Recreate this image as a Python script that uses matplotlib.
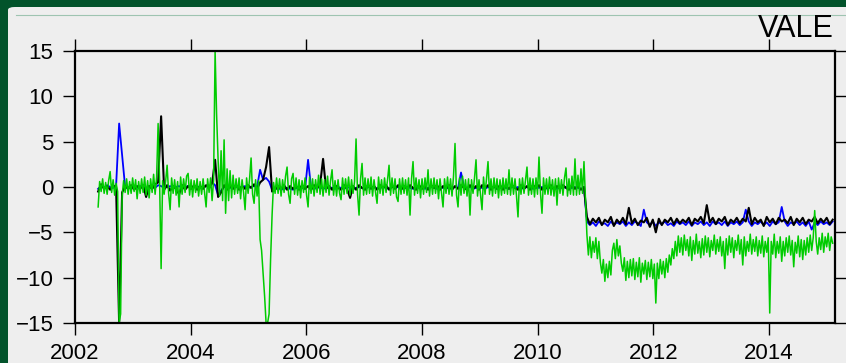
import numpy as np
import matplotlib
matplotlib.use('Agg')
from matplotlib import pyplot as plt
from matplotlib.patches import FancyBboxPatch
from matplotlib.lines import Line2D

# decimal-year sampling before and after the level shift
dates_pre = np.linspace(2002.40, 2010.80, 163)
dates_post = np.linspace(2010.85, 2015.10, 83)
# green series is sampled twice as often
dates_green_pre = np.linspace(2002.40, 2010.80, 325)
dates_green_post = np.linspace(2010.85, 2015.10, 165)

green_pre = [
    -2.2, 0.6, -0.5, 0.9, -0.7, 0.5, -0.8, 0.7, 1.7, -0.6,
    0.8, -0.9, 0.4, -0.5, -15.0, -14.0, -1.0, 0.7, -0.6, 0.9,
    -0.8, 0.6, -0.7, 1.0, -0.5, 0.8, -1.3, 0.6, -0.7, 0.9,
    -0.6, 1.1, -0.9, 0.7, -1.2, 0.9, -0.6, 1.4, -0.8, 1.1,
    7.0, 0.5, -9.0, 0.7, -0.8, 0.6, 2.4, -0.7, -2.5, 1.0,
    -0.7, 0.8, -0.9, 0.6, -2.2, 1.1, -0.8, 0.9, -0.6, 1.2,
    1.5, -0.9, 0.8, -1.1, 0.7, -0.6, 0.9, -1.0, 0.6, -0.8,
    0.9, -0.7, -2.2, 0.9, -0.6, 1.0, -1.5, 0.8, 15.0, 8.0,
    3.0, -1.0, 4.0, -1.5, 5.2, -2.9, 2.0, -1.5, 1.8, -1.2,
    1.3, -0.8, 0.9, -0.7, 1.0, -1.3, 0.8, -0.6, -2.5, 1.0,
    -0.7, 0.9, 3.2, -0.8, -1.8, 0.8, -1.0, 0.7, -5.8, -7.0,
    -9.5, -12.0, -15.0, -15.0, -14.0, -8.0, -3.1, 0.5, -0.7, 1.0,
    -0.7, 0.9, -1.0, 0.8, -0.6, 1.2, 2.2, -0.8, -1.8, 0.9,
    1.5, -0.8, 1.0, -0.9, 0.8, -1.2, 0.7, -0.6, 1.0, -0.9,
    -2.2, 1.1, -0.7, 0.9, -1.0, 0.8, -0.6, 1.3, -0.8, 0.9,
    -1.0, 0.8, -0.6, 1.2, -0.9, 0.7, 1.9, -0.9, 0.7, -1.0,
    0.8, -0.7, -1.4, 1.0, -0.8, 0.9, -0.7, 1.1, -0.9, 0.8,
    -0.7, 0.6, 5.3, -0.8, -3.1, 0.9, 2.6, -0.9, 1.0, -0.8,
    0.9, -0.7, 1.1, -1.0, 0.8, -0.6, -1.8, 1.1, -0.7, 0.8,
    -0.9, 1.0, -0.6, 0.8, 2.4, -0.9, 1.0, -0.7, 0.9, -1.1,
    -1.6, 0.9, -0.8, 1.0, -0.7, 0.8, -0.9, 1.0, -3.1, 0.9,
    2.8, -0.9, 1.0, -0.7, 0.8, -1.2, 0.9, -0.8, 1.0, -0.6,
    1.9, -1.0, 0.9, -0.8, 1.0, -0.7, 0.8, -1.3, 0.9, -0.7,
    -2.2, 0.9, -0.7, 1.1, -0.8, 0.9, -1.0, 1.2, 4.8, -0.9,
    -2.2, 1.0, -0.9, 1.2, -0.7, 0.8, -1.0, 0.9, -3.1, 0.8,
    -0.7, 1.0, 3.0, -1.0, 0.8, -0.9, -2.5, 1.1, -0.8, 0.9,
    2.8, -0.8, 0.9, -1.0, 1.0, -0.7, 0.9, -1.2, 0.8, -0.9,
    1.0, -0.7, 0.9, -0.8, 1.9, -0.9, 1.0, -0.8, 0.9, -1.0,
    -3.3, 0.9, -0.8, 1.0, -0.7, 0.8, 2.2, -0.9, 1.0, -0.8,
    0.9, -1.1, 1.0, -0.8, 3.3, -0.7, -2.9, 1.0, -0.8, 0.9,
    -0.8, 1.1, -0.9, 0.8, -1.0, 0.9, -2.0, 1.0, -0.7, 0.8,
    -0.9, 1.0, 2.1, -1.0, 0.9, -0.8, 1.2, -0.9, 3.1, -0.9,
    1.3, -0.8, 2.0, -0.7, 2.8,
]
green_post = [
    -5.2, -7.5, -5.5, -7.8, -6.0, -7.2, -5.6, -7.9, -6.0, -8.3,
    -9.5, -8.0, -10.4, -8.5, -10.0, -8.2, -9.7, -7.0, -6.2, -7.9,
    -5.8, -7.6, -6.5, -8.4, -9.3, -7.8, -10.3, -8.2, -10.0, -8.0,
    -9.8, -7.9, -10.2, -8.3, -9.9, -7.8, -10.5, -8.4, -9.6, -8.1,
    -10.2, -8.3, -9.9, -8.0, -10.1, -8.5, -12.8, -8.4, -10.1, -8.0,
    -9.6, -8.2, -10.0, -7.9, -9.4, -7.5, -8.6, -6.8, -7.9, -6.0,
    -7.6, -5.4, -7.2, -5.6, -7.5, -5.3, -7.0, -5.8, -7.6, -5.5,
    -8.1, -5.9, -7.4, -5.2, -7.3, -6.0, -7.8, -5.7, -7.5, -5.4,
    -7.2, -5.6, -7.7, -5.9, -7.0, -5.3, -7.4, -5.8, -7.1, -5.5,
    -7.6, -6.0, -9.0, -5.7, -7.5, -5.4, -7.2, -5.6, -7.8, -5.9,
    -7.0, -5.3, -7.4, -5.8, -8.6, -5.5, -7.6, -6.0, -7.1, -5.2,
    -7.4, -5.8, -7.1, -5.5, -7.6, -5.9, -7.3, -5.4, -7.7, -6.0,
    -7.2, -5.6, -13.9, -6.0, -7.4, -5.2, -7.8, -6.0, -7.3, -5.5,
    -8.2, -6.0, -7.6, -5.6, -7.2, -5.4, -7.5, -5.9, -8.8, -6.1,
    -7.3, -5.4, -7.7, -5.8, -8.0, -5.9, -7.5, -5.6, -7.2, -5.3,
    -7.0, -5.6, -2.6, -6.0, -7.4, -5.6, -6.9, -5.1, -7.2, -5.5,
    -6.6, -5.1, -7.0, -5.5, -6.2,
]

black_pre = [
    -0.5, 0.3, -0.2, 0.1, -0.3, 0.2, -0.1, -15.0, -0.6, 0.1,
    -0.2, 0.2, -0.3, 0.1, -0.2, 0.2, -1.1, 0.1, -0.2, 0.3,
    0.5, 7.8, -0.3, 0.2, -0.4, 0.1, -0.2, -0.8, 0.2, -0.3,
    0.1, -0.2, 0.2, -0.3, 0.1, -0.2, 0.2, -0.1, 0.4, 3.0,
    -1.1, -0.6, 0.2, -0.3, 0.1, -0.2, 0.2, -0.3, 0.1, -0.2,
    0.2, -0.1, 0.3, -0.2, 0.5, 0.8, 2.2, 4.4, -0.5, -0.3,
    0.1, -0.2, 0.2, -0.3, 0.1, -0.2, 0.1, -0.3, 0.2, -0.2,
    0.1, -0.3, 0.2, -0.1, 0.2, 3.1, -0.2, 0.1, -0.3, 0.2,
    -0.1, -0.3, 0.2, -0.2, -1.2, 0.1, -0.3, 0.2, -0.1, -0.3,
    0.2, -0.2, 0.1, -0.3, 0.2, -0.1, 0.2, -0.3, 0.1, -0.2,
    0.2, -0.3, 0.1, -0.2, 0.2, -0.1, -0.3, 0.2, -0.2, 0.1,
    -0.3, 0.2, -0.1, 0.2, -0.3, 0.1, -0.2, 0.2, -0.3, 0.1,
    -0.2, 0.2, -0.1, -0.3, 0.2, -0.2, 0.1, -0.3, 0.2, -0.1,
    0.2, -0.3, 0.1, -0.2, 0.2, -0.3, 0.1, -0.2, 0.2, -0.1,
    -0.3, 0.2, -0.2, 0.1, -0.3, 0.2, -0.1, 0.2, -0.3, 0.1,
    -0.2, 0.2, -0.3, 0.1, -0.2, 0.2, -0.1, -0.3, 0.2, -0.2,
    0.1, -0.3, 0.0,
]
black_post = [
    -3.3, -4.1, -3.5, -3.9, -3.4, -4.2, -3.6, -3.9, -3.3, -4.3,
    -3.6, -4.0, -3.4, -4.1, -2.3, -4.0, -3.5, -4.2, -3.7, -3.9,
    -3.4, -4.4, -3.6, -5.0, -3.5, -4.2, -3.6, -3.9, -3.4, -4.1,
    -3.5, -4.0, -3.6, -3.9, -3.4, -4.2, -3.5, -3.8, -3.3, -4.0,
    -2.0, -3.9, -3.4, -4.1, -3.5, -3.8, -3.3, -4.2, -3.6, -3.9,
    -3.4, -4.0, -3.5, -3.8, -2.3, -4.1, -3.4, -3.9, -3.6, -4.3,
    -3.3, -3.9, -3.5, -4.1, -3.4, -3.8, -3.6, -4.0, -3.3, -4.2,
    -3.5, -3.9, -3.4, -4.1, -3.6, -3.8, -3.3, -4.0, -3.5, -3.9,
    -3.4, -4.1, -3.6,
]

blue_pre = [
    -0.2, 0.1, -0.1, 0.2, 0.0, -0.1, 0.2, 7.0, 3.5, 0.0,
    -0.1, 0.1, 0.0, -0.1, 0.1, 0.0, -0.2, 0.1, 0.0, -0.1,
    0.2, 0.1, -0.1, 0.0, 0.1, -0.1, 0.0, 0.1, -0.1, 0.0,
    0.1, -0.1, 0.0, 0.1, -0.1, 0.0, 0.1, 0.0, 0.5, 0.2,
    -0.9, -0.4, 0.0, 0.1, -0.1, 0.0, 0.1, -0.1, 0.0, 0.1,
    -0.1, 0.0, 0.1, 0.0, 1.9, 0.8, 1.0, 0.6, -0.3, -0.2,
    -0.1, -0.3, -0.2, -0.1, -0.2, -0.3, -0.1, -0.2, -0.1, -0.2,
    3.0, -0.1, -0.2, -0.1, 0.0, -0.2, -0.1, 0.0, -0.1, -0.2,
    0.0, -0.1, -0.2, 0.0, -0.1, -0.2, -0.1, 0.0, -0.1, -0.2,
    0.0, -0.1, 0.0, -0.2, -0.1, 0.0, -0.1, -0.2, 0.0, -0.1,
    0.0, -0.2, -0.1, 0.0, -0.1, -0.2, 0.0, -0.1, 0.0, -0.2,
    -0.1, 0.0, -0.1, -0.2, 0.0, -0.1, 0.0, -0.2, -0.1, 0.0,
    -0.1, 1.6, 0.0, -0.1, 0.0, -0.2, -0.1, 0.0, -0.1, -0.2,
    0.0, -0.1, 0.0, -0.2, -0.1, 0.0, -0.1, -0.2, 0.0, -0.1,
    0.0, -0.2, -0.1, 0.0, -0.1, -0.2, 0.0, -0.1, 0.0, -0.2,
    -0.1, 0.0, -0.1, -0.2, 0.0, -0.1, 0.0, -0.2, -0.1, 0.0,
    -0.1, -0.2, 0.0,
]
blue_post = [
    -3.8, -4.2, -3.9, -4.3, -3.8, -4.1, -4.0, -4.3, -3.8, -4.2,
    -3.9, -4.1, -3.8, -4.3, -3.9, -4.2, -3.8, -4.0, -4.3, -2.5,
    -3.9, -4.2, -3.8, -4.3, -3.9, -4.1, -3.8, -4.2, -4.0, -4.3,
    -3.8, -4.1, -3.9, -4.2, -3.8, -4.3, -3.9, -4.1, -3.8, -4.2,
    -3.9, -4.3, -3.8, -4.1, -3.9, -4.2, -3.8, -4.3, -3.9, -4.1,
    -3.8, -4.2, -3.9, -2.5, -3.8, -4.3, -3.9, -4.1, -3.8, -4.2,
    -3.9, -4.3, -3.8, -4.1, -3.9, -2.2, -3.8, -4.3, -3.9, -4.1,
    -3.8, -4.2, -3.9, -4.3, -3.8, -4.7, -3.9, -4.2, -3.8, -4.1,
    -3.9, -4.2, -3.8,
]

year_ticks = [2002, 2004, 2006, 2008, 2010, 2012, 2014]
value_ticks = [-15, -10, -5, 0, 5, 10, 15]
title = 'VALE'

W, H = 846, 363
plt.rcParams['font.family'] = ['Liberation Sans', 'DejaVu Sans']

fig = plt.figure(figsize=(W / 100, H / 100), dpi=100)
fig.patch.set_facecolor('#02532b')

# light panel with rounded corner and thin rule on top
panel = FancyBboxPatch((8 / W, -0.05), 1.1, 1 - 7 / H + 0.05,
                       boxstyle='round,pad=0,rounding_size=0.008',
                       transform=fig.transFigure, facecolor='#eeeeee',
                       edgecolor='none', zorder=-10)
fig.patches.append(panel)
fig.lines.append(Line2D([16 / W, 1], [1 - 14.5 / H, 1 - 14.5 / H],
                        transform=fig.transFigure, color='#9ec4b1',
                        lw=0.8, zorder=-5))

ax = fig.add_axes([75 / W, 40 / H, 760 / W, 272 / H])
ax.set_facecolor('#eeeeee')

dates = np.concatenate([dates_pre, dates_post])
dates_green = np.concatenate([dates_green_pre, dates_green_post])
ax.plot(dates, blue_pre + blue_post, color='#0000ff', lw=1.3)
ax.plot(dates, black_pre + black_post, color='black', lw=1.5)
ax.plot(dates_green, green_pre + green_post, color='#00cc00', lw=1.1)

ax.set_xlim(2002, 2015.14)
ax.set_ylim(-15, 15)
ax.set_xticks(year_ticks)
ax.set_yticks(value_ticks)
ax.tick_params(direction='out', length=8.5, width=1, labelsize=16,
               top=True, right=True, pad=6)
ax.tick_params(axis='y', pad=7)
for s in ax.spines.values():
    s.set_linewidth(1.6)

fig.text(834 / W, 1 - 37 / H, title, ha='right', va='baseline', fontsize=22)

fig.savefig('out.png', dpi=100, facecolor=fig.get_facecolor())
